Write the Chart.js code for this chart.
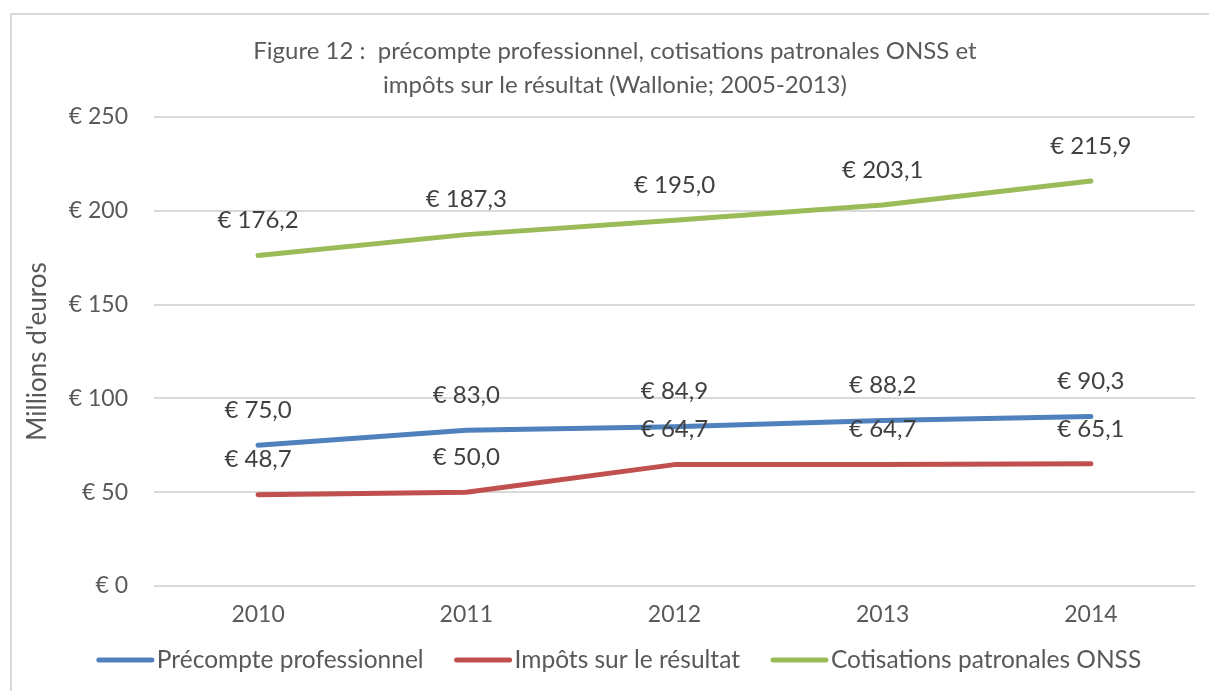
<!DOCTYPE html>
<html><head><meta charset="utf-8">
<script src="https://cdn.jsdelivr.net/npm/chart.js@4"></script>
<style>
html,body{margin:0;padding:0;background:#fff;overflow:hidden}
#frame{position:absolute;left:10px;top:13px;width:1210px;height:690px;border:2px solid #d9d9d9;box-sizing:border-box}
#wrap{position:absolute;left:0;top:0;width:1209px;height:691px}
</style></head><body>
<div id="frame"></div>
<div id="wrap"><canvas id="c" width="1209" height="691"></canvas></div>
<script>
const categories = ["2010","2011","2012","2013","2014"];
const precompte = [75.0, 83.0, 84.9, 88.2, 90.3];
const impots = [48.7, 50.0, 64.7, 64.7, 65.1];
const cotisations = [176.2, 187.3, 195.0, 203.1, 215.9];
const titleLines = ["Figure 12 :  précompte professionnel, cotisations patronales ONSS et", "impôts sur le résultat (Wallonie; 2005-2013)"];
const seriesNames = ["Précompte professionnel", "Impôts sur le résultat", "Cotisations patronales ONSS"];
const yTitle = "Millions d'euros";

const FONT = "Lato, 'Open Sans', sans-serif";
const fmt = v => "€ " + v.toFixed(1).replace(".", ",");

const titlePlugin = {
  id: 'titleDraw',
  afterDraw(chart) {
    const ctx = chart.ctx;
    ctx.save();
    ctx.fillStyle = '#595959';
    ctx.font = "24px " + FONT;
    ctx.textAlign = 'center';
    ctx.textBaseline = 'middle';
    ctx.fillText(titleLines[0], 615, 51);
    ctx.fillText(titleLines[1], 615, 85);
    ctx.restore();
  }
};
const labelPlugin = {
  id: 'dataLabels',
  afterDatasetsDraw(chart) {
    const ctx = chart.ctx;
    ctx.save();
    ctx.fillStyle = '#404040';
    ctx.font = "24px " + FONT;
    ctx.textAlign = 'center';
    ctx.textBaseline = 'middle';
    chart.data.datasets.forEach((ds, i) => {
      const meta = chart.getDatasetMeta(i);
      meta.data.forEach((pt, j) => {
        ctx.fillText(fmt(ds.data[j]), pt.x, pt.y - 35);
      });
    });
    ctx.restore();
  }
};
const legendPlugin = {
  id: 'legendDraw',
  afterDraw(chart) {
    const ctx = chart.ctx;
    ctx.save();
    ctx.font = "24.5px " + FONT;
    ctx.textBaseline = 'middle';
    const lineW = 57, gapLT = 3, gapItem = 31, y = 660;
    const items = chart.data.datasets.map(ds => ({ text: ds.label, color: ds.borderColor, w: ctx.measureText(ds.label).width }));
    const total = items.reduce((s, it) => s + lineW + gapLT + it.w, 0) + gapItem * (items.length - 1);
    let x = 619 - total / 2;
    items.forEach(it => {
      ctx.strokeStyle = it.color;
      ctx.lineWidth = 5;
      ctx.lineCap = 'round';
      ctx.beginPath();
      ctx.moveTo(x + 2, y);
      ctx.lineTo(x + lineW - 2, y);
      ctx.stroke();
      ctx.fillStyle = '#595959';
      ctx.textAlign = 'left';
      ctx.fillText(it.text, x + lineW + gapLT, y);
      x += lineW + gapLT + it.w + gapItem;
    });
    ctx.restore();
  }
};

const mk = (label, data, color) => ({
  label, data, borderColor: color, backgroundColor: color,
  borderWidth: 5, pointRadius: 0, pointHoverRadius: 0, tension: 0,
  borderCapStyle: 'round', borderJoinStyle: 'round'
});

new Chart(document.getElementById('c'), {
  type: 'line',
  data: {
    labels: categories,
    datasets: [
      mk(seriesNames[0], precompte, '#4f81bd'),
      mk(seriesNames[1], impots, '#c0504d'),
      mk(seriesNames[2], cotisations, '#9bbb59')
    ]
  },
  options: {
    responsive: false,
    animation: false,
    layout: { padding: { top: 117, right: 14, left: 0, bottom: 49 } },
    plugins: {
      title: { display: false },
      tooltip: { enabled: false },
      legend: { display: false }
    },
    scales: {
      x: {
        offset: true,
        grid: { display: false, drawTicks: false },
        border: { display: false },
        ticks: { color: '#595959', font: { family: FONT, size: 23 }, padding: 15 },
        afterFit(s) { s.height = 56; }
      },
      y: {
        min: 0, max: 250,
        ticks: { stepSize: 50, color: '#595959', font: { family: FONT, size: 23 }, padding: 26,
          callback: v => "€ " + v },
        grid: { color: '#d9d9d9', lineWidth: 2, drawTicks: false },
        border: { display: false },
        title: { display: true, text: yTitle, color: '#595959', font: { family: FONT, size: 26 }, padding: { top: 22, bottom: 0 } },
        afterFit(s) { s.width = 154; }
      }
    }
  },
  plugins: [titlePlugin, labelPlugin, legendPlugin]
});
</script>
</body></html>
